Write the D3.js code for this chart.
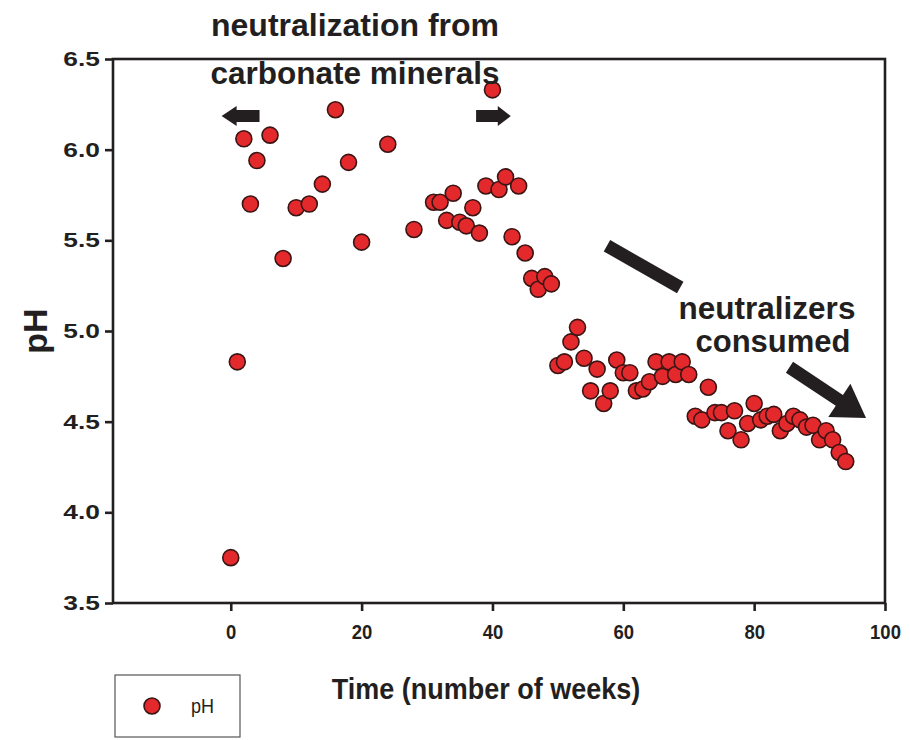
<!DOCTYPE html>
<html><head><meta charset="utf-8">
<script src="https://cdn.jsdelivr.net/npm/d3@7"></script>
<style>body{margin:0;background:#fff}svg{display:block}</style>
</head><body>
<svg id="c" width="910" height="740"></svg>
<script>
const weeks = [0,1,2,3,4,6,8,10,12,14,16,18,20,24,28,
  31,32,33,34,35,36,37,38,39,40,41,42,43,44,45,46,47,48,49,
  50,51,52,53,54,55,56,57,58,59,60,61,62,63,64,65,66,67,68,69,70,
  71,72,73,74,75,76,77,78,79,80,81,82,83,84,85,86,87,88,89,90,91,92,93,94];
const pH = [3.75,4.83,6.06,5.70,5.94,6.08,5.40,5.68,5.70,5.81,6.22,5.93,5.49,6.03,5.56,
  5.71,5.71,5.61,5.76,5.60,5.58,5.68,5.54,5.80,6.33,5.78,5.85,5.52,5.80,5.43,5.29,5.23,5.30,5.26,
  4.81,4.83,4.94,5.02,4.85,4.67,4.79,4.60,4.67,4.84,4.77,4.77,4.67,4.68,4.72,4.83,4.75,4.83,4.76,4.83,4.76,
  4.53,4.51,4.69,4.55,4.55,4.45,4.56,4.40,4.49,4.60,4.51,4.53,4.54,4.45,4.49,4.53,4.51,4.47,4.48,4.40,4.45,4.40,4.33,4.28];
const xTicks = [0,20,40,60,80,100];
const yTicks = [3.5,4.0,4.5,5.0,5.5,6.0,6.5];
const xLabel = "Time (number of weeks)";
const yLabel = "pH";
const legendLabel = "pH";
const annoTop = ["neutralization from","carbonate minerals"];
const annoRight = ["neutralizers","consumed"];

const svg = d3.select("#c");
const x = d3.scaleLinear().domain([-18, 100]).range([113, 885]);
const y = d3.scaleLinear().domain([3.5, 6.5]).range([603, 59]);
const ink = "#231f20";
const font = "'Liberation Sans', Arial, Helvetica, sans-serif";

// frame
svg.append("rect").attr("x", x(-18)).attr("y", y(6.5))
  .attr("width", x(100)-x(-18)).attr("height", y(3.5)-y(6.5))
  .attr("fill","none").attr("stroke",ink).attr("stroke-width",2.6);

const xa = svg.append("g").attr("transform",`translate(0,${y(3.5)})`)
  .call(d3.axisBottom(x).tickValues(xTicks).tickSize(8).tickPadding(13).tickFormat(d3.format("d")));
const ya = svg.append("g").attr("transform",`translate(${x(-18)},0)`)
  .call(d3.axisLeft(y).tickValues(yTicks).tickSize(8).tickPadding(6).tickFormat(d3.format(".1f")));
[xa,ya].forEach(g=>{
  g.select(".domain").remove();
  g.selectAll("line").attr("stroke",ink).attr("stroke-width",2.6);
  g.selectAll("text").attr("fill",ink).attr("font-family",font).attr("font-weight","bold");
});
xa.selectAll("text").attr("font-size",21).attr("transform","scale(0.88,1)")
  .attr("x", function(){ return 0; });
// keep x labels centred on ticks after horizontal scaling
xa.selectAll(".tick").each(function(){
  d3.select(this).select("text").attr("transform","scale(0.88,1)");
});
ya.selectAll("text").attr("font-size",20).attr("transform","scale(1.32,1)").attr("x",-13/1.32);

// axis titles
svg.append("text").attr("transform","translate(486,699) scale(0.9,1)")
  .attr("text-anchor","middle").attr("font-family",font).attr("font-weight","bold")
  .attr("font-size",30).attr("fill",ink).text(xLabel);
svg.append("text").attr("transform",`translate(47,${(y(3.5)+y(6.5))/2}) rotate(-90)`)
  .attr("text-anchor","middle").attr("font-family",font).attr("font-weight","bold")
  .attr("font-size",34).attr("fill",ink).text(yLabel);

// points
svg.append("g").selectAll("circle").data(weeks.map((w,i)=>({w, v:pH[i]})))
  .join("circle").attr("cx",d=>x(d.w)).attr("cy",d=>y(d.v)).attr("r",8)
  .attr("fill","#e3292c").attr("stroke","#3b1414").attr("stroke-width",1.6);

// arrows
function arrow(x1,y1,x2,y2,sw,hl,hw){
  const dx=x2-x1, dy=y2-y1, L=Math.hypot(dx,dy), ux=dx/L, uy=dy/L, px=-uy, py=ux;
  const bx=x2-ux*hl, by=y2-uy*hl;
  const pts=[[x1+px*sw/2,y1+py*sw/2],[bx+px*sw/2,by+py*sw/2],[bx+px*hw,by+py*hw],[x2,y2],
    [bx-px*hw,by-py*hw],[bx-px*sw/2,by-py*sw/2],[x1-px*sw/2,y1-py*sw/2]];
  return "M"+pts.map(p=>p.join(",")).join("L")+"Z";
}
const ag = svg.append("g").attr("fill",ink);
ag.append("path").attr("d", arrow(x(4.4),y(6.185),x(-1.4),y(6.185),12,15,10));
ag.append("path").attr("d", arrow(x(37.5),y(6.185),x(42.8),y(6.185),12,13,10));
ag.append("path").attr("d", arrow(x(85.4),y(4.80),x(97.1),y(4.52),13,32,20));
// diagonal bar (no head)
svg.append("line").attr("x1",x(57.5)).attr("y1",y(5.47)).attr("x2",x(68.7)).attr("y2",y(5.24))
  .attr("stroke",ink).attr("stroke-width",13);

// annotations
const at = svg.append("g").attr("font-family",font).attr("font-weight","bold")
  .attr("fill",ink).attr("text-anchor","middle");
at.append("text").attr("x",355).attr("y",36).attr("font-size",32).text(annoTop[0]);
at.append("text").attr("x",355).attr("y",84).attr("font-size",31.5).text(annoTop[1]);
at.append("text").attr("x",767).attr("y",319).attr("font-size",31.5).text(annoRight[0]);
at.append("text").attr("x",773).attr("y",352).attr("font-size",31).text(annoRight[1]);

// legend
svg.append("rect").attr("x",115).attr("y",675).attr("width",125).attr("height",62)
  .attr("fill","#fff").attr("stroke","#555").attr("stroke-width",1.2);
svg.append("circle").attr("cx",152).attr("cy",706).attr("r",8)
  .attr("fill","#e3292c").attr("stroke","#3b1414").attr("stroke-width",1.6);
svg.append("text").attr("transform","translate(191,713) scale(0.9,1)").attr("font-family",font)
  .attr("font-size",20).attr("fill",ink).text(legendLabel);
</script>
</body></html>
